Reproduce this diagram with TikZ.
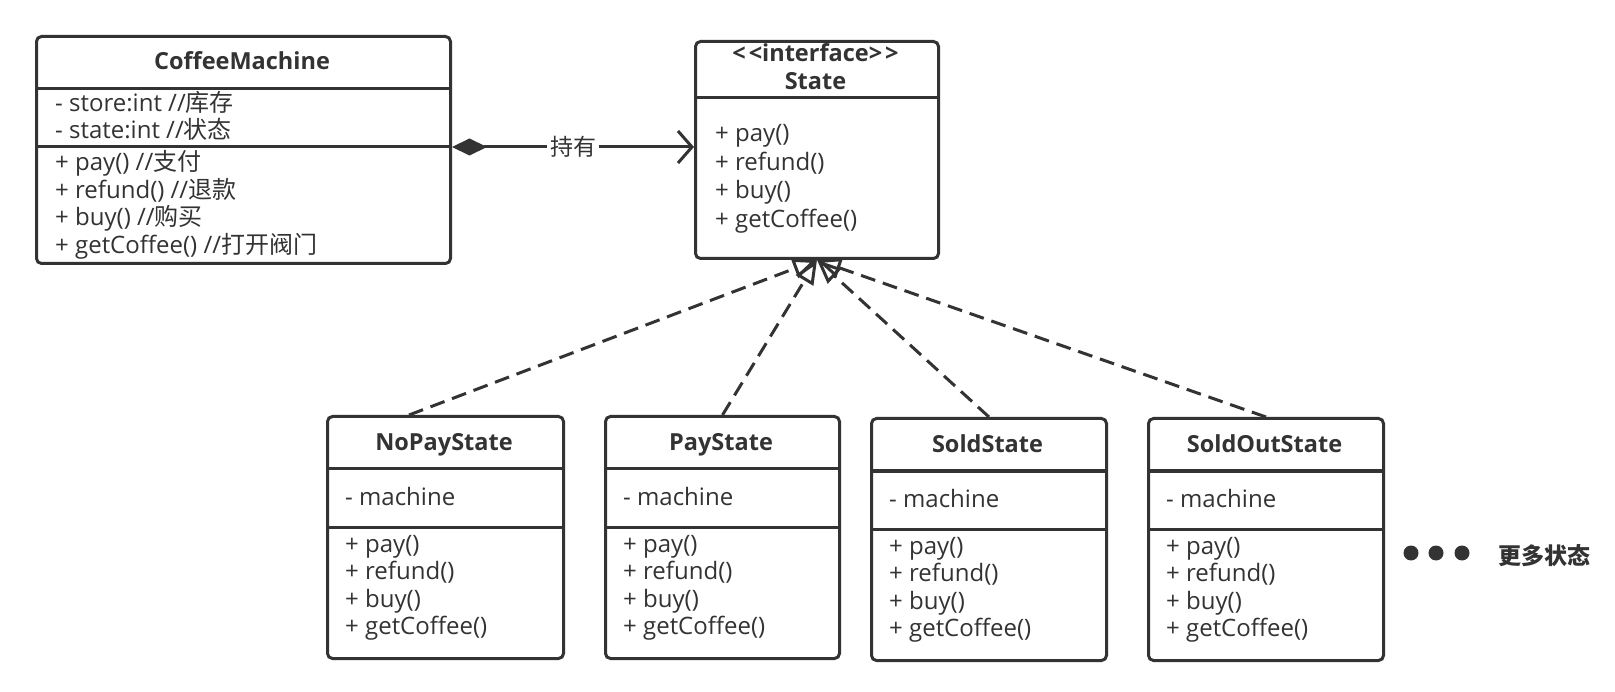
\documentclass[tikz,border=0pt]{standalone}
\usepackage{fontspec}
\setmainfont{Open Sans}
\newfontfamily\cjk{Noto Sans CJK SC}
\usetikzlibrary{arrows.meta}
\definecolor{ink}{HTML}{333333}
\begin{document}
\begin{tikzpicture}[x=1pt,y=-1pt,
  box/.style={draw=ink, line width=3pt, rounded corners=5pt, fill=white, anchor=north west, inner sep=0pt},
  sep/.style={draw=ink, line width=3pt},
  ttl/.style={font=\bfseries\fontsize{23.5}{26}\selectfont, text=ink, anchor=base, inner sep=0pt},
  mem/.style={font=\fontsize{24}{28}\selectfont, text=ink, anchor=base west, inner sep=0pt},
  impl/.style={draw=ink, line width=3pt, dash pattern=on 15pt off 8pt, -{Triangle[open,length=24pt,width=20pt,line width=3pt]}},
  dotn/.style={circle, fill=ink, minimum size=15pt, inner sep=0pt}
]
\useasboundingbox[fill=white] (0,0) rectangle (1615,692);

% ---------- CoffeeMachine ----------
\node[box, minimum width=414pt, minimum height=227pt] (cm) at (35,35) {};
\draw[sep] (cm.west |- 0,89) -- (cm.east |- 0,89);
\draw[sep] (cm.west |- 0,147) -- (cm.east |- 0,147);
\node[ttl] (cmt) at (242,70) {CoffeeMachine};
\node[mem] (cma1) at (55,112) {- store:int //{\cjk 库存}};
\node[mem] (cma2) at (55,139) {- state:int //{\cjk 状态}};
\node[mem] (cmm1) at (55,171) {+ pay() //{\cjk 支付}};
\node[mem] (cmm2) at (55,198.5) {+ refund() //{\cjk 退款}};
\node[mem] (cmm3) at (55,226) {+ buy() //{\cjk 购买}};
\node[mem] (cmm4) at (55,253.5) {+ getCoffee() //{\cjk 打开阀门}};

% ---------- State ----------
\node[box, minimum width=243pt, minimum height=217pt] (st) at (694,40) {};
\draw[sep] (st.west |- 0,98) -- (st.east |- 0,98);
\node[ttl] (stt1) at (815.5,62) {<\kern3pt<interface>\kern3pt>};
\node[ttl] (stt2) at (815.5,90) {State};
\node[mem] (stm1) at (715,142) {+ pay()};
\node[mem] (stm2) at (715,170.5) {+ refund()};
\node[mem] (stm3) at (715,199) {+ buy()};
\node[mem] (stm4) at (715,227.5) {+ getCoffee()};

% ---------- concrete states ----------
\foreach \n/\x/\w/\dy/\t in {np/326/236/0/NoPayState, ps/604/234/0/PayState, ss/870/235/2/SoldState, so/1147/235/2/SoldOutState}{
  \node[box, minimum width=\w pt, minimum height=242pt] (\n) at (\x,415+\dy) {};
  \draw[sep] (\n.west |- 0,469+\dy) -- (\n.east |- 0,469+\dy);
  \draw[sep] (\n.west |- 0,527+\dy) -- (\n.east |- 0,527+\dy);
  \node[ttl] (\n t) at (\x+\w/2,451+\dy) {\t};
  \node[mem] (\n a) at (\x+19,505+\dy) {- machine};
  \node[mem] (\n m1) at (\x+19,552+\dy) {+ pay()};
  \node[mem] (\n m2) at (\x+19,579.5+\dy) {+ refund()};
  \node[mem] (\n m3) at (\x+19,607+\dy) {+ buy()};
  \node[mem] (\n m4) at (\x+19,634.5+\dy) {+ getCoffee()};
}

% ---------- composition ----------
\draw[draw=ink, line width=3pt, {Diamond[length=35pt,width=17pt,fill=ink]}-{Straight Barb[length=14pt,width=32pt,line width=3pt]}]
  (cm.east |- 0,147) -- node[fill=white, inner sep=3pt, text=ink, font=\cjk\fontsize{23}{28}\selectfont] (lbl) {持有} (st.west |- 0,147);

% ---------- realizations ----------
\coordinate (sttip) at (st.south);
\coordinate (npend) at (409,415);
\draw[impl] (npend) -- (sttip);
\draw[impl] (ps.north) -- (sttip);
\draw[impl] (ss.north) -- (sttip);
\draw[impl] (so.north) -- (sttip);

% ---------- more states ----------
\node[dotn] (d1) at (1411,553) {};
\node[dotn] (d2) at (1436,553) {};
\node[dotn] (d3) at (1462,553) {};
\node[anchor=base west, inner sep=0pt, text=ink, font=\cjk\bfseries\fontsize{23}{28}\selectfont] (more) at (1498,564) {更多状态};
\end{tikzpicture}
\end{document}
